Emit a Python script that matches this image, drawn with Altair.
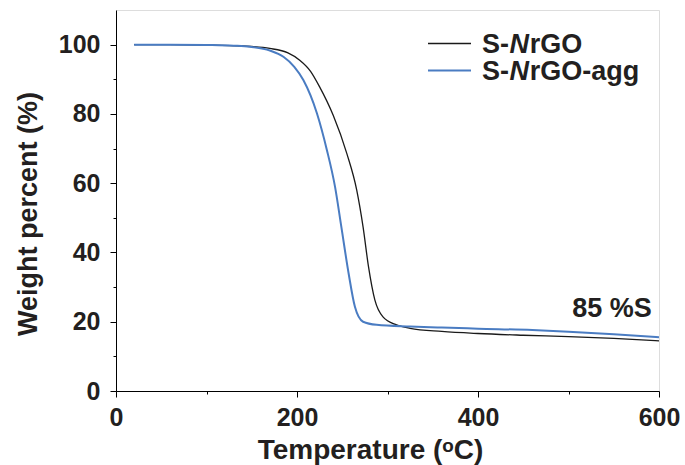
import altair as alt
import pandas as pd

# ---- data ----
series_names = ["S-NrGO", "S-NrGO-agg"]

t_black = [20, 60, 100, 140, 170, 190, 203, 215, 225, 240, 255, 266, 273, 279, 286,
           295, 310, 325, 360, 400, 450, 500, 550, 600]
w_black = [100, 100, 99.9, 99.6, 98.9, 97.6, 95.5, 92.3, 87.8, 79.6, 68.6, 58.0, 47.4, 35.9,
           26.3, 21.4, 19.1, 18.1, 17.2, 16.6, 16.1, 15.7, 15.2, 14.5]

t_blue = [20, 60, 100, 130, 148, 170, 185, 197, 207, 222, 233, 242, 249, 257, 264,
          273, 288, 325, 360, 400, 460, 500, 550, 600]
w_blue = [100, 100, 99.9, 99.7, 99.4, 98.3, 96.5, 93.6, 89.8, 80.2, 69.6, 59.0, 47.4, 34.0,
          24.3, 20.0, 19.1, 18.6, 18.3, 18.0, 17.6, 17.1, 16.4, 15.5]

y_major = [0, 20, 40, 60, 80, 100]
y_minor = [10, 30, 50, 70, 90]
x_major = [0, 200, 400, 600]
x_minor = [100, 300, 500]

annot_text = "85 %S"
annot_t, annot_w = 592, 21.4

colors = ["#1a1a1a", "#4a7cc2"]
FONT = "Liberation Sans"
TXT = "#231f20"

df = pd.concat([
    pd.DataFrame({"T": t_black, "W": w_black, "s": series_names[0]}),
    pd.DataFrame({"T": t_blue, "W": w_blue, "s": series_names[1]}),
])

W, H = 543, 381

xs = alt.Scale(domain=[0, 600], nice=False)
ys = alt.Scale(domain=[0, 110], nice=False)

lines = alt.Chart(df).mark_line(interpolate="monotone").encode(
    x=alt.X("T:Q", scale=xs, axis=alt.Axis(
        values=x_major, orient="bottom", labelFontSize=25, labelFont=FONT, labelFontWeight="bold",
        labelColor=TXT, tickSize=6, tickColor="black", domainColor="black", labelPadding=8,
        grid=False, title="Temperature (ᵒC)", titleFont=FONT, titleFontSize=28,
        titleFontWeight="bold", titleColor=TXT, titleX=254, titleY=67,
        titleBaseline="alphabetic", titleAlign="center", labelFlush=False)),
    y=alt.Y("W:Q", scale=ys, axis=alt.Axis(
        values=y_major, orient="left", labelFontSize=25, labelFont=FONT, labelFontWeight="bold",
        labelColor=TXT, tickSize=6, tickColor="black", domainColor="black", labelPadding=10,
        grid=False, title="Weight percent (%)", titleFont=FONT, titleFontSize=27,
        titleFontWeight="bold", titleColor=TXT, titleX=-88, titleY=H / 2 + 13,
        titleBaseline="middle", titleAlign="center", titleAngle=270)),
    color=alt.Color("s:N", scale=alt.Scale(domain=series_names, range=colors), legend=None),
    strokeWidth=alt.StrokeWidth("s:N", scale=alt.Scale(domain=series_names, range=[1.3, 2.0]),
                                legend=None),
)

minor_df = pd.DataFrame({"T": [100], "W": [10]})
minor = alt.Chart(minor_df).mark_point(opacity=0).encode(
    x=alt.X("T:Q", scale=xs, axis=alt.Axis(values=x_minor, orient="bottom", labels=False,
                                            tickSize=3, tickColor="black", domain=False,
                                            grid=False, title=None)),
    y=alt.Y("W:Q", scale=ys, axis=alt.Axis(values=y_minor, orient="left", labels=False,
                                            tickSize=3, tickColor="black", domain=False,
                                            grid=False, title=None)),
)

annot = alt.Chart(pd.DataFrame({"T": [annot_t], "W": [annot_w], "label": [annot_text]})).mark_text(
    align="right", baseline="alphabetic", font=FONT, fontSize=27, fontWeight="bold", color=TXT
).encode(x=alt.X("T:Q", scale=xs, axis=None), y=alt.Y("W:Q", scale=ys, axis=None), text="label:N")

# ---- manual legend (italic N) ----
FS = 27
leg_layers = []
for i, (name, col) in enumerate(zip(series_names, colors)):
    ly = 33.5 + i * 27
    sw = 1.3 if i == 0 else 2.0
    leg_layers.append(alt.Chart(pd.DataFrame({"a": [0]})).mark_rule(color=col, strokeWidth=sw).encode(
        x=alt.value(312), x2=alt.value(355), y=alt.value(ly)))
    parts = [("S-", "normal", 0.0), ("N", "italic", 1.02), (name[3:], "normal", 1.77)]
    for txt, style, off in parts:
        leg_layers.append(alt.Chart(pd.DataFrame({"t": [txt]})).mark_text(
            align="left", baseline="middle", font=FONT, fontSize=FS, fontWeight="bold",
            fontStyle=style, color=TXT, dy=1).encode(
            x=alt.value(366 + off * FS), y=alt.value(ly), text="t:N"))

chart = alt.layer(lines, minor, annot, *leg_layers).resolve_axis(
    x="independent", y="independent"
).properties(
    width=W, height=H, autosize=alt.AutoSizeParams(type="none"),
    padding={"left": 116, "top": 10, "right": 26, "bottom": 74},
).configure_view(stroke="black", strokeWidth=1.2).configure(background="white")

chart.save("out.html", embed_options={"renderer": "svg", "actions": False})
